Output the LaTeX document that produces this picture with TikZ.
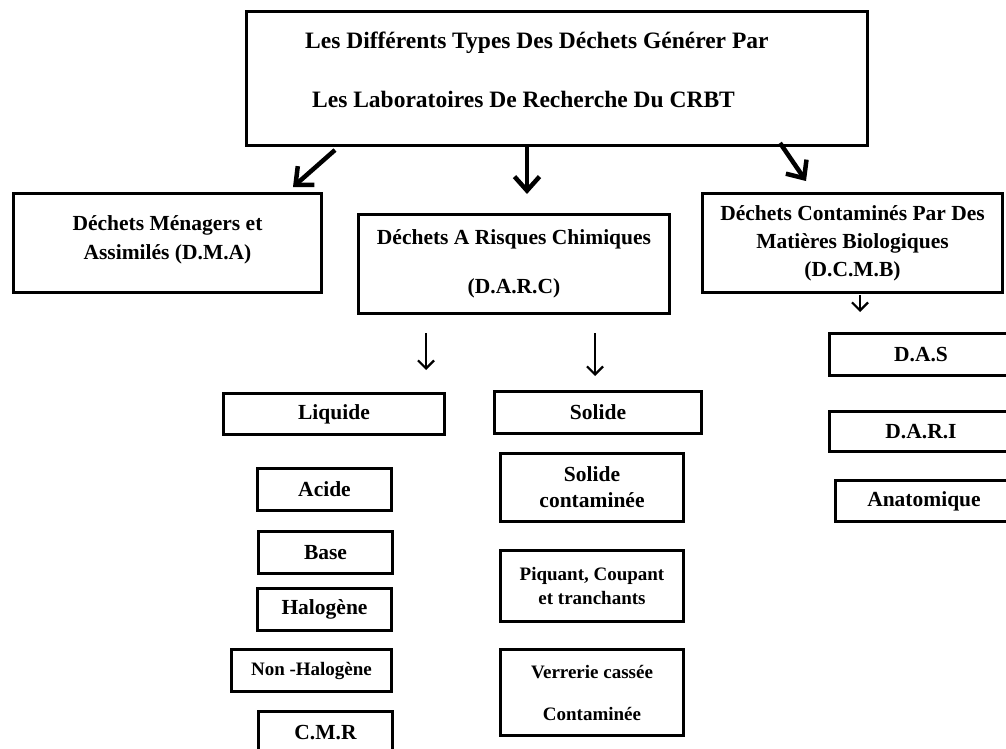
\documentclass[tikz,border=0pt]{standalone}
\usepackage{fontspec}
\setmainfont{Liberation Serif}
\usetikzlibrary{arrows.meta}
\newcommand{\txtgrand}{\fontsize{23.5}{59}\selectfont\bfseries}
\newcommand{\txtmoyen}{\fontsize{21.5}{29}\selectfont\bfseries}
\newcommand{\txtpetit}{\fontsize{19}{24}\selectfont\bfseries}
\tikzset{
	boite/.style={draw, line width=3pt, inner sep=0pt, align=center, font=\txtmoyen},
	grossefleche/.style={line width=4.5pt, -{Straight Barb[length=14pt,width=25pt]}},
	fleche/.style={line width=2.2pt, -{Straight Barb[length=8pt,width=16pt]}}
}
\begin{document}
\begin{tikzpicture}[x=1pt,y=-1pt]
				\useasboundingbox (0,0) rectangle (1006,749);
				% titre
				\node[boite, minimum width=621pt, minimum height=134pt] (titre) at (557,78.5) {};
				\node[font=\txtgrand, align=left, inner sep=0pt, anchor=base west] (titrelib) at (305,108)
					{Les Différents Types Des Déchets Générer Par\\\hspace*{7pt}Les Laboratoires De Recherche Du CRBT};
				% les trois familles
				\node[boite, minimum width=308pt, minimum height=99pt] (dma) at (167.5,243) {Déchets Ménagers et\\Assimilés (D.M.A)\\[-18pt]\mbox{}};
				\node[boite, minimum width=311pt, minimum height=99pt] (darc) at (514,264) {Déchets A Risques Chimiques\\[20pt](D.A.R.C)};
				\node[boite, minimum width=300pt, minimum height=99pt, font={\fontsize{21.5}{28}\selectfont\bfseries}] (dcmb) at (852.5,243)
					{Déchets Contaminés Par Des\\Matières Biologiques\\(D.C.M.B)};
				\coordinate (d1) at (335,150);  \coordinate (f1) at (293,187);
				\coordinate (d2) at (527,146);  \coordinate (f2) at (527,194);
				\coordinate (d3) at (780,143);  \coordinate (f3) at (806,181);
				\draw[grossefleche] (d1) -- (f1);
				\draw[grossefleche] (d2) -- (f2);
				\draw[grossefleche] (d3) -- (f3);
				% D.A.R.C
				\coordinate (d4) at (426,333);  \coordinate (f4) at (426,370);
				\coordinate (d5) at (595,333);  \coordinate (f5) at (595,376);
				\draw[fleche] (d4) -- (f4);
				\draw[fleche] (d5) -- (f5);
				\node[boite, minimum width=221pt, minimum height=41pt] (liquide) at (334,414) {Liquide};
				\node[boite, minimum width=207pt, minimum height=42pt] (solide) at (598,412.5) {Solide};
				\node[boite, minimum width=134pt, minimum height=42pt] (acide) at (324.5,489.5) {Acide};
				\node[boite, minimum width=134pt, minimum height=42pt] (base) at (325.5,552.5) {Base};
				\node[boite, minimum width=134pt, minimum height=42pt] (halo) at (324.5,609.5) {Halogène};
				\node[boite, minimum width=160pt, minimum height=42pt, font=\txtpetit] (nonhalo) at (311.5,670.5) {Non -Halogène};
				\node[boite, minimum width=134pt, minimum height=42pt] (cmr) at (325.5,732.5) {C.M.R};
				\node[boite, minimum width=183pt, minimum height=68pt, font={\fontsize{21.5}{26}\selectfont\bfseries}] (solcont) at (592,487.5) {Solide\\contaminée};
				\node[boite, minimum width=183pt, minimum height=71pt, font=\txtpetit] (piquant) at (592,586) {Piquant, Coupant\\et tranchants};
				\node[boite, minimum width=183pt, minimum height=86pt, font={\fontsize{19}{42}\selectfont\bfseries}] (verrerie) at (592,692.5) {Verrerie cassée\\Contaminée};
				% D.C.M.B
				\coordinate (d6) at (860,295);  \coordinate (f6) at (860,312);
				\draw[fleche] (d6) -- (f6);
				\node[boite, minimum width=184pt, minimum height=42pt] (das) at (921,354.5) {D.A.S};
				\node[boite, minimum width=184pt, minimum height=40pt] (dari) at (921,431.5) {D.A.R.I};
				\node[boite, minimum width=178pt, minimum height=41pt] (anat) at (924,501) {Anatomique};
			\end{tikzpicture}
\end{document}
